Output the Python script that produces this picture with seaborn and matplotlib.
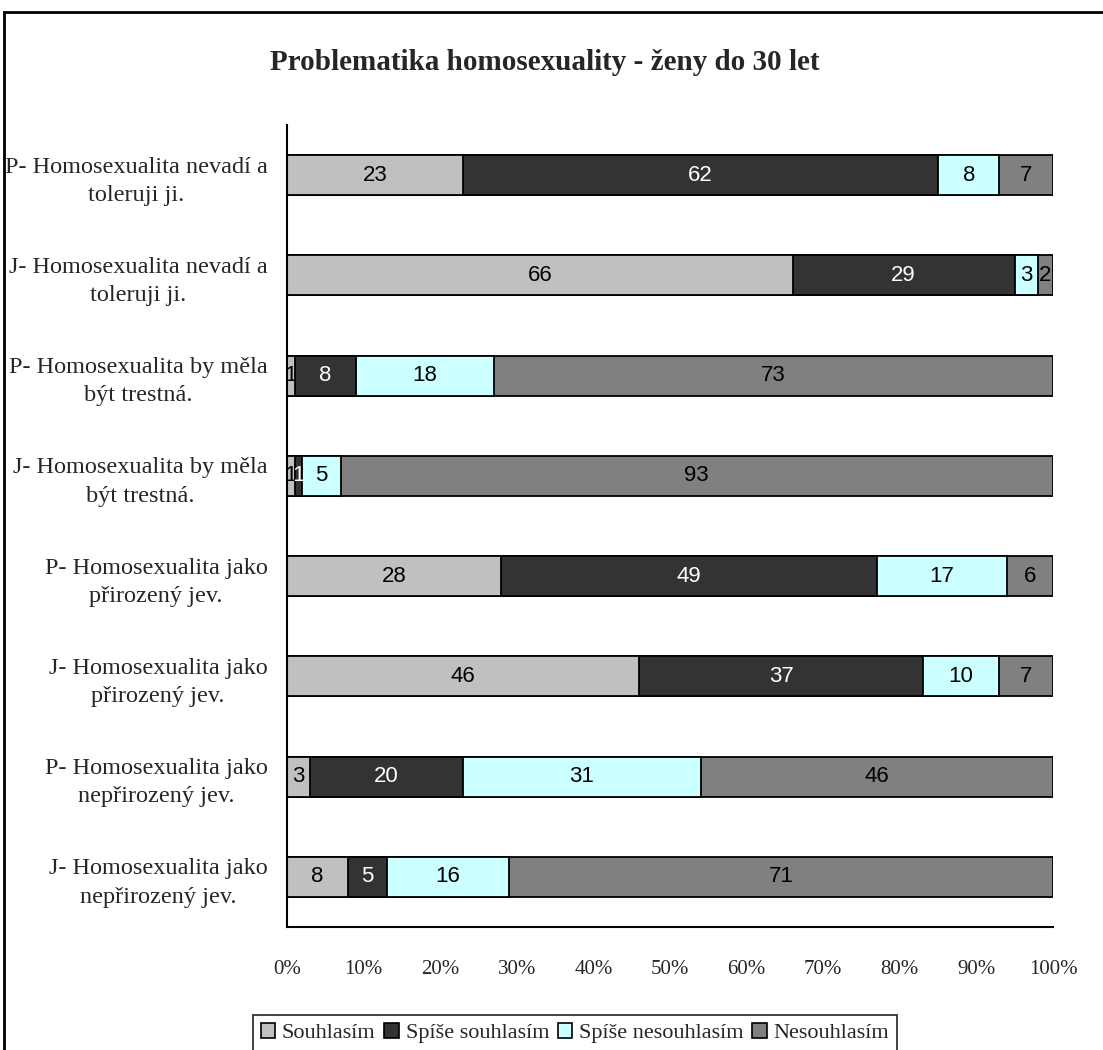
import matplotlib
matplotlib.use("Agg")
import matplotlib.pyplot as plt
import numpy as np
import pandas as pd
import seaborn as sns
from matplotlib.patches import Patch, Rectangle

# data (percent, top to bottom)
questions = [
    "P- Homosexualita nevadí a\ntoleruji ji.",
    "J- Homosexualita nevadí a\ntoleruji ji.",
    "P- Homosexualita by měla\nbýt trestná.",
    "J- Homosexualita by měla\nbýt trestná.",
    "P- Homosexualita jako\npřirozený jev.",
    "J- Homosexualita jako\npřirozený jev.",
    "P- Homosexualita jako\nnepřirozený jev.",
    "J- Homosexualita jako\nnepřirozený jev.",
]
answers = ["Souhlasím", "Spíše souhlasím", "Spíše nesouhlasím", "Nesouhlasím"]
souhlasim = [23, 66, 1, 1, 28, 46, 3, 8]
spise_souhlasim = [62, 29, 8, 1, 49, 37, 20, 5]
spise_nesouhlasim = [8, 3, 18, 5, 17, 10, 31, 16]
nesouhlasim = [7, 2, 73, 93, 6, 7, 46, 71]
colors = ["#C0C0C0", "#333333", "#CCFFFF", "#808080"]
text_colors = ["black", "white", "black", "black"]

sns.set_style("white")
plt.rcParams["font.family"] = ["Liberation Serif", "DejaVu Serif"]

df = pd.DataFrame({"otazka": questions})
for name, vals in zip(answers, [souhlasim, spise_souhlasim,
                                spise_nesouhlasim, nesouhlasim]):
    df[name] = vals
cum = df[answers].cumsum(axis=1)

fig = plt.figure(figsize=(11.03, 10.5), dpi=100)
ax = fig.add_axes([287 / 1103, 123 / 1050, 766 / 1103, 802 / 1050])

# stacked bars: draw the cumulative sums from the longest to the shortest
for i in range(len(answers) - 1, -1, -1):
    sns.barplot(x=cum[answers[i]], y=df["otazka"], order=questions,
                orient="y", color=colors[i], width=0.4, saturation=1,
                edgecolor="black", linewidth=1.3, ax=ax)

# value labels in the middle of each segment
for row in range(len(questions)):
    left = 0
    for i, name in enumerate(answers):
        v = df.loc[row, name]
        ax.text(left + v / 2, row, str(v), ha="center", va="center",
                fontsize=16, color=text_colors[i], family="Liberation Sans")
        left += v

ax.set_xlim(0, 100)
ax.set_ylim(7.5, -0.5)
ax.set_xticks(np.arange(0, 101, 10))
ax.set_xticklabels([f"{t}%" for t in range(0, 101, 10)], fontsize=15)
ax.set_yticks(np.arange(len(questions)))
ax.set_yticklabels(questions, fontsize=17.5, multialignment="center",
                   linespacing=1.45)
ax.set_yticks(np.arange(-0.5, len(questions), 1), minor=True)
ax.tick_params(axis="y", which="major", length=0, pad=14)
ax.tick_params(axis="y", which="minor", length=8, width=1.2, direction="out")
ax.tick_params(axis="x", length=8, width=1.2, direction="out", pad=16)
ax.set_xlabel("")
ax.set_ylabel("")
for s in ["top", "right"]:
    ax.spines[s].set_visible(False)
for s in ["left", "bottom"]:
    ax.spines[s].set_linewidth(1.5)
    ax.spines[s].set_color("black")

fig.text(0.494, 1 - 62 / 1050, "Problematika homosexuality - ženy do 30 let",
         ha="center", va="center", fontsize=21, fontweight="bold")

handles = [Patch(facecolor=c, edgecolor="black", linewidth=1.2) for c in colors]
leg = fig.legend(handles, answers, loc="upper left",
                 bbox_to_anchor=(253 / 1103, 1 - 1015 / 1050), ncol=4,
                 fontsize=16, frameon=True, fancybox=False, shadow=False,
                 handlelength=0.65, handleheight=0.65, handletextpad=0.3,
                 columnspacing=0.4, borderpad=0.35, borderaxespad=0)
leg.get_frame().set_edgecolor("black")
leg.get_frame().set_linewidth(1.3)

# outer chart frame (cut off on the right and bottom)
fig.patches.append(Rectangle((4 / 1103, -0.5), 2, 0.5 + 1 - 12 / 1050,
                             transform=fig.transFigure, fill=False,
                             edgecolor="black", linewidth=2, clip_on=False))

fig.savefig("out.png", dpi=100)
